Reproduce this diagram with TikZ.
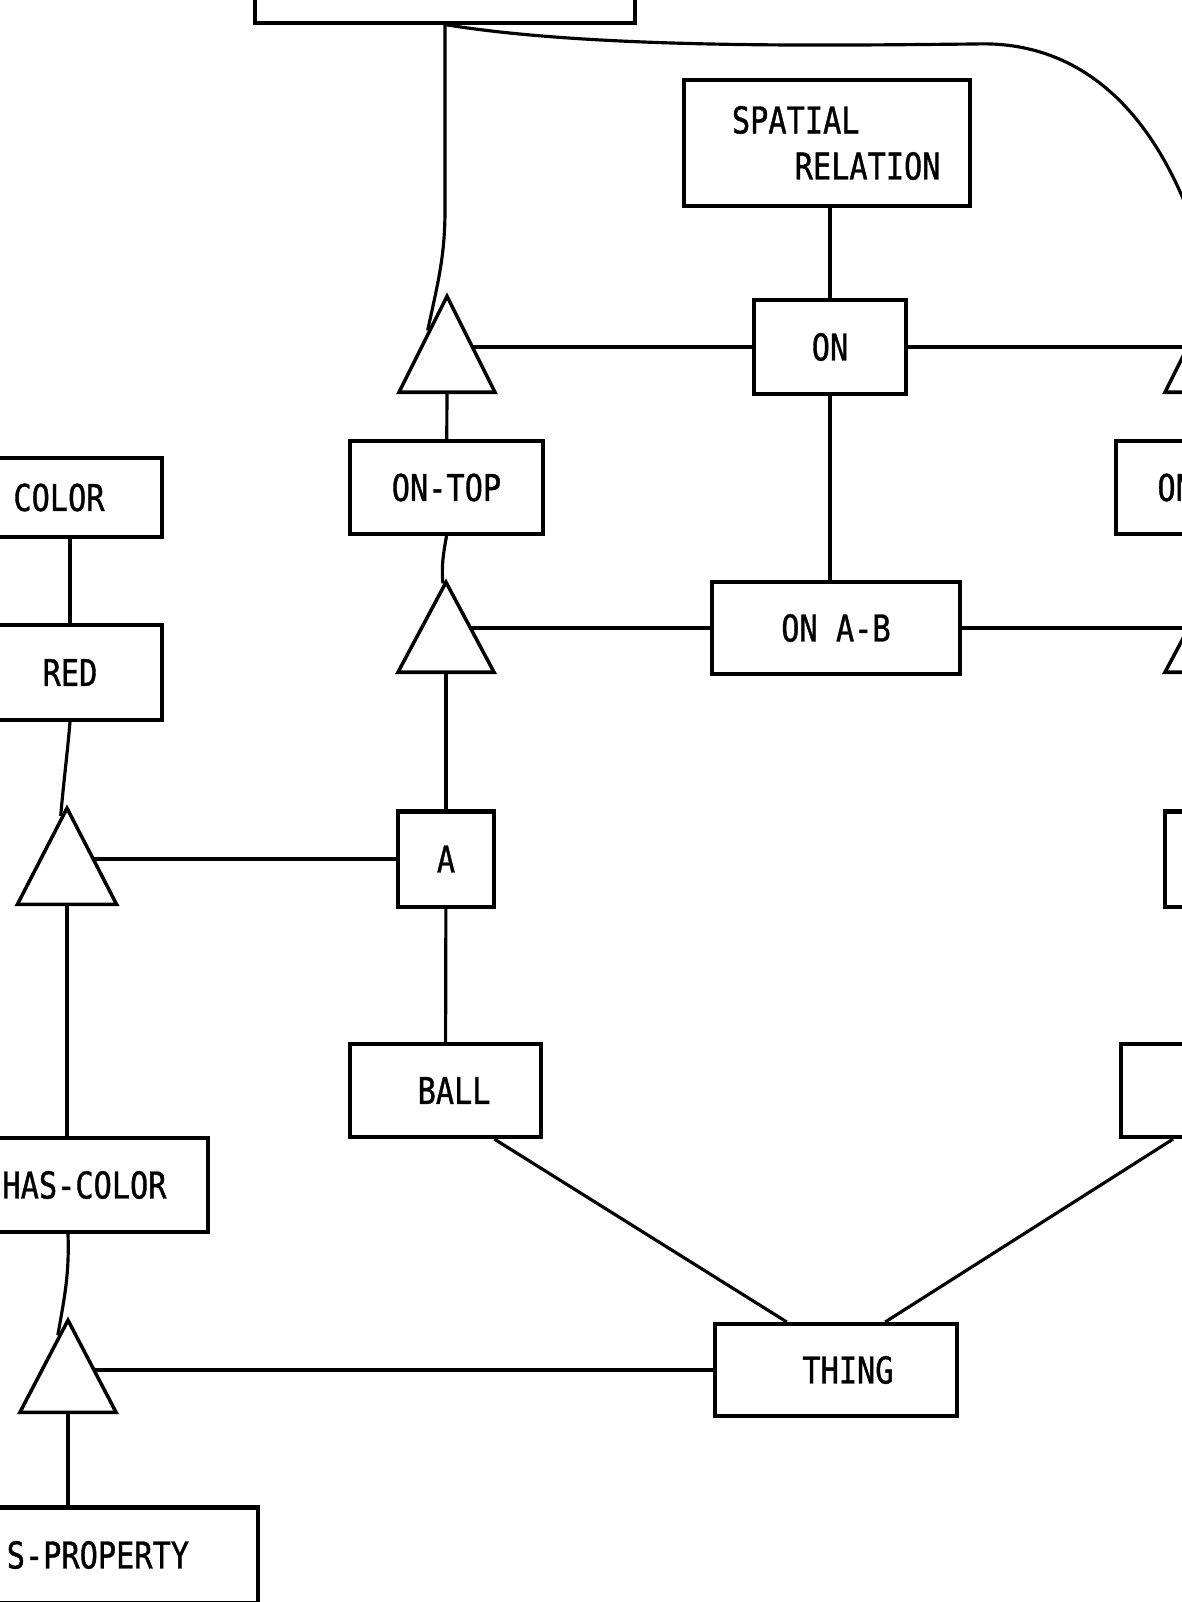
\documentclass[tikz,border=0pt]{standalone}
\usepackage{fontspec}
\setmainfont{DejaVu Sans Mono}[FakeStretch=0.82, FakeBold=1]
\usetikzlibrary{shapes.geometric, calc}
\tikzset{every node/.style={font=\fontsize{10.5}{13.1}\selectfont}, box/.style={draw, rectangle, line width=1.15pt, inner sep=0pt}, tri/.style={draw, isosceles triangle, isosceles triangle stretches, shape border rotate=90, anchor=lower side, line width=1pt, inner sep=0pt, minimum width=0.96cm, minimum height=0.96cm}}

\begin{document}
\begin{tikzpicture}[x=0.01cm, y=-0.01cm, line width=0.9pt]
	\useasboundingbox (0,0) rectangle (1182,1602);
	\clip (0,0) rectangle (1182,1602);
	\node[box, minimum width=3.80cm, minimum height=0.95cm] at (445,-25) (Top) {};
	\node[box, minimum width=2.86cm, minimum height=1.26cm, align=left] at (827,143) (Spatial Relation) {\hspace*{0.5em}SPATIAL\\\hspace*{2.2em}RELATION};
	\node[box, minimum width=1.51cm, minimum height=0.94cm] at (830,347) (On) {ON};
	\node[tri] at (447,394) (On Top Tri) {};
	\node[tri] at (1213,394) (Right Tri) {};
	\node[box, minimum width=1.93cm, minimum height=0.93cm] at (446.5,487.5) (On Top) {ON-TOP};
	\node[box, minimum width=1.93cm, minimum height=0.93cm, text width=1.1cm, align=left] at (1212.5,487.5) (Right On) {ON};
	\node[tri, minimum height=0.90cm] at (446,674) (On AB Tri) {};
	\node[box, minimum width=2.47cm, minimum height=0.92cm] at (836,628) (On AB) {ON A-B};
	\node[tri, minimum height=0.90cm] at (1213,674) (Right AB Tri) {};
	\node[box, minimum width=2.06cm, minimum height=0.79cm] at (59,497.5) (Color) {COLOR};
	\node[box, minimum width=1.84cm, minimum height=0.95cm] at (70,672.5) (Red) {RED};
	\node[tri, minimum width=0.99cm] at (67,906) (Red Tri) {};
	\node[box, minimum width=0.96cm, minimum height=0.95cm] at (446,859) (A) {A};
	\node[box, minimum width=0.96cm, minimum height=0.95cm] at (1213,859) (B) {};
	\node[box, minimum width=1.91cm, minimum height=0.93cm, text width=0.9cm, align=right] at (445.5,1090.5) (Ball) {BALL};
	\node[box, minimum width=1.91cm, minimum height=0.93cm] at (1217,1090.5) (Right Ball) {};
	\node[box, minimum width=2.47cm, minimum height=0.94cm] at (84.5,1185) (Has Color) {HAS-COLOR};
	\node[tri, minimum height=0.92cm] at (68,1414) (Thing Tri) {};
	\node[box, minimum width=2.42cm, minimum height=0.92cm, text width=1.15cm, align=right] at (836,1370) (Thing) {THING};
	\node[box, minimum width=3.76cm, minimum height=0.95cm, text width=2.38cm, align=right] at (70,1555) (Has Property) {S-PROPERTY};
	\draw (Top.south) -- ++(0,185) to[out=-90, in=78] ($(On Top Tri.apex)!0.38!(On Top Tri.left corner)$);
	\draw
		(Spatial Relation.south -| On) edge (On)
		(On) edge (On -| On Top Tri.right side)
		(On) edge (On -| Right Tri.left side)
		(On Top Tri.lower side) edge (On Top)
		(On Top.south) edge[out=-100, in=95] ($(On AB Tri.apex)!0.06!(On AB Tri.left corner)$)
		(On) edge (On |- On AB.north)
		(On AB) edge (On AB -| On AB Tri.right side)
		(On AB) edge (On AB -| Right AB Tri.left side)
		(On AB Tri.lower side) edge (A)
		(A) edge (A -| Red Tri.right side)
		(A) edge (Ball)
		(Red |- Color.south) edge (Red)
		(Red.south) edge[out=-95, in=85] ($(Red Tri.apex)!0.12!(Red Tri.left corner)$)
		(Red Tri.lower side) edge (Red Tri.lower side |- Has Color.north)
		(Thing Tri.lower side |- Has Color.south) edge[out=-88, in=80] ($(Thing Tri.apex)!0.2!(Thing Tri.left corner)$)
		(Thing) edge (Thing -| Thing Tri.right side)
		(Thing Tri.lower side) edge (Thing Tri.lower side |- Has Property.north)
		($(Ball.south)!0.5!(Ball.south east)$) edge ($(Thing.north)!0.4!(Thing.north west)$)
		($(Right Ball.south)!0.45!(Right Ball.south west)$) edge ($(Thing.north)!0.4!(Thing.north east)$);
	\draw (Top.south) .. controls (600,50) and (850,45) .. (975,44) .. controls (1080,40) and (1170,110) .. (Right Tri.apex);
\end{tikzpicture}
\end{document}
